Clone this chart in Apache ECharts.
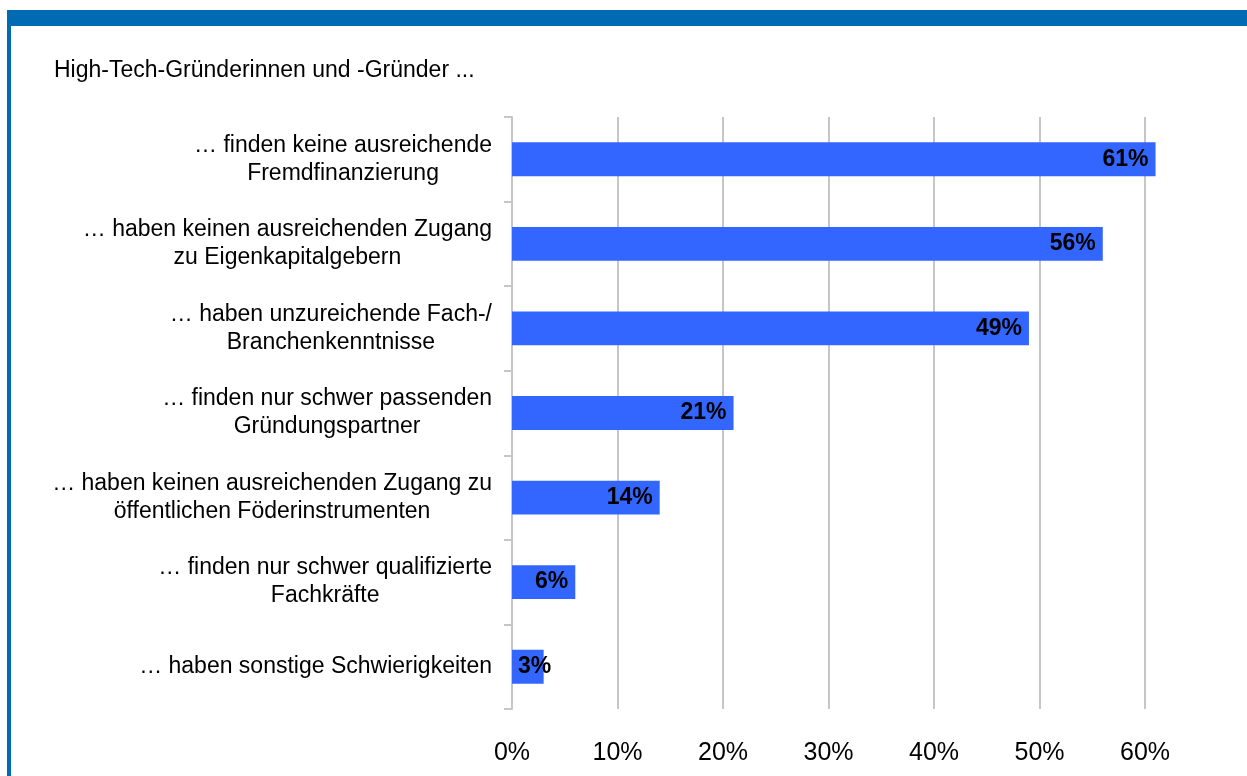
<!DOCTYPE html>
<html>
<head>
<meta charset="utf-8">
<script src="https://cdn.jsdelivr.net/npm/echarts@6/dist/echarts.min.js"></script>
<style>
  html, body { margin: 0; padding: 0; background: #fff; }
  #chart { width: 1247px; height: 776px; }
</style>
</head>
<body>
<div id="chart"></div>
<script>
// Kategorien (von oben nach unten)
const categories = [
  "… finden keine ausreichende\nFremdfinanzierung",
  "… haben keinen ausreichenden Zugang\nzu Eigenkapitalgebern",
  "… haben unzureichende Fach-/\nBranchenkenntnisse",
  "… finden nur schwer passenden\nGründungspartner",
  "… haben keinen ausreichenden Zugang zu\nöffentlichen Föderinstrumenten",
  "… finden nur schwer qualifizierte\nFachkräfte",
  "… haben sonstige Schwierigkeiten"
];
// Anteile in Prozent
const values = [61, 56, 49, 21, 14, 6, 3];
const titleText = "High-Tech-Gründerinnen und -Gründer ...";

const FONT = "Arial, 'Liberation Sans', sans-serif";
const frameBlue = "#006AB3";
const barBlue = "#3366FF";
const gridGray = "#c6c6c6";

// kleine Balken: Label beginnt links im Balken
const barData = values.map((v) => {
  if (v < 5) {
    return { value: v, label: { position: "insideLeft", distance: 6 } };
  }
  return v;
});

const chart = echarts.init(document.getElementById("chart"));
chart.setOption({
  animation: false,
  backgroundColor: "#fff",
  title: {
    text: titleText,
    left: 54,
    top: 59,
    padding: 0,
    textStyle: { fontFamily: FONT, fontSize: 23, fontWeight: "normal", color: "#000" }
  },
  graphic: [
    { type: "rect", shape: { x: 7, y: 10, width: 1240, height: 16 }, style: { fill: frameBlue } },
    { type: "rect", shape: { x: 7, y: 10, width: 4, height: 766 }, style: { fill: frameBlue } }
  ],
  grid: { left: 512, right: 102, top: 117, bottom: 67, containLabel: false },
  xAxis: {
    type: "value",
    min: 0,
    max: 60,
    interval: 10,
    axisLine: { show: false },
    axisTick: { show: false },
    splitLine: { show: true, lineStyle: { color: gridGray, width: 2 } },
    axisLabel: {
      margin: 32,
      fontFamily: FONT,
      fontSize: 25,
      color: "#000",
      formatter: "{value}%"
    }
  },
  yAxis: {
    type: "category",
    inverse: true,
    data: categories,
    axisLine: { show: true, lineStyle: { color: gridGray, width: 2 } },
    axisTick: { show: true, length: 8, lineStyle: { color: gridGray, width: 2 } },
    axisLabel: {
      margin: 20,
      interval: 0,
      formatter: (txt) => txt.split("\n").map((l) => "{c|" + l + "}").join("\n"),
      rich: {
        c: { align: "center", fontFamily: FONT, fontSize: 23, lineHeight: 28, color: "#000" }
      }
    }
  },
  series: [
    {
      type: "bar",
      data: barData,
      clip: false,
      barCategoryGap: "60%",
      itemStyle: { color: barBlue },
      label: {
        show: true,
        position: "insideRight",
        distance: 7,
        formatter: "{c}%",
        fontFamily: FONT,
        fontSize: 23,
        fontWeight: "bold",
        color: "#000"
      }
    }
  ]
});
</script>
</body>
</html>
